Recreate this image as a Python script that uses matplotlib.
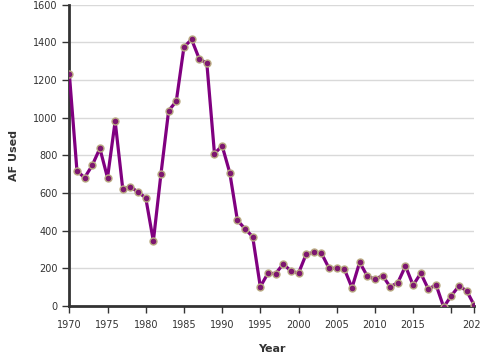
import matplotlib
matplotlib.use("Agg")
import matplotlib.pyplot as plt

years = list(range(1970, 2024))
af_used = [1234, 718, 681, 747, 837, 681, 981, 620, 634, 604,
           575, 345, 703, 1037, 1087, 1374, 1416, 1313, 1289, 809,
           851, 708, 455, 410, 368, 102, 174, 172, 223, 186,
           174, 275, 285, 280, 200, 200, 196, 97, 232, 159,
           142, 161, 102, 124, 212, 110, 174, 89, 113, -6,
           55, 106, 81, 4]

x_ticks = [1970, 1975, 1980, 1985, 1990, 1995, 2000, 2005, 2010, 2015, 2020, 2023]
x_tick_labels = ["1970", "1975", "1980", "1985", "1990", "1995", "2000",
                 "2005", "2010", "2015", "", "2023"]
y_ticks = [0, 200, 400, 600, 800, 1000, 1200, 1400, 1600]

text_color = "#333333"

fig = plt.figure(figsize=(4.8, 3.6), dpi=100)
ax = fig.add_axes([0.1444, 0.15, 0.8436, 0.837])

ax.plot(years, af_used, color="#800080", linewidth=2.3, zorder=3,
        marker="o", markersize=5, markerfacecolor="#7d1670",
        markeredgecolor="#b9aa82", markeredgewidth=1.0)

ax.set_xlim(1970, 2023)
ax.set_ylim(0, 1600)
ax.set_xticks(x_ticks)
ax.set_xticklabels(x_tick_labels)
ax.set_yticks(y_ticks)

ax.grid(axis="y", color="#d9d9d9", linewidth=1)
ax.set_axisbelow(True)
for side in ["top", "right"]:
    ax.spines[side].set_visible(False)
for side in ["left", "bottom"]:
    ax.spines[side].set_color(text_color)
    ax.spines[side].set_linewidth(2)

ax.tick_params(axis="both", colors=text_color, labelsize=7, length=5, width=1)
ax.tick_params(axis="x", pad=5)
ax.set_xlabel("Year", fontsize=8, fontweight="bold", color=text_color, labelpad=10)
ax.set_ylabel("AF Used", fontsize=8, fontweight="bold", color=text_color, labelpad=10)
for lbl in ax.get_xticklabels() + ax.get_yticklabels():
    lbl.set_clip_on(False)

fig.savefig("out.png", dpi=100)
